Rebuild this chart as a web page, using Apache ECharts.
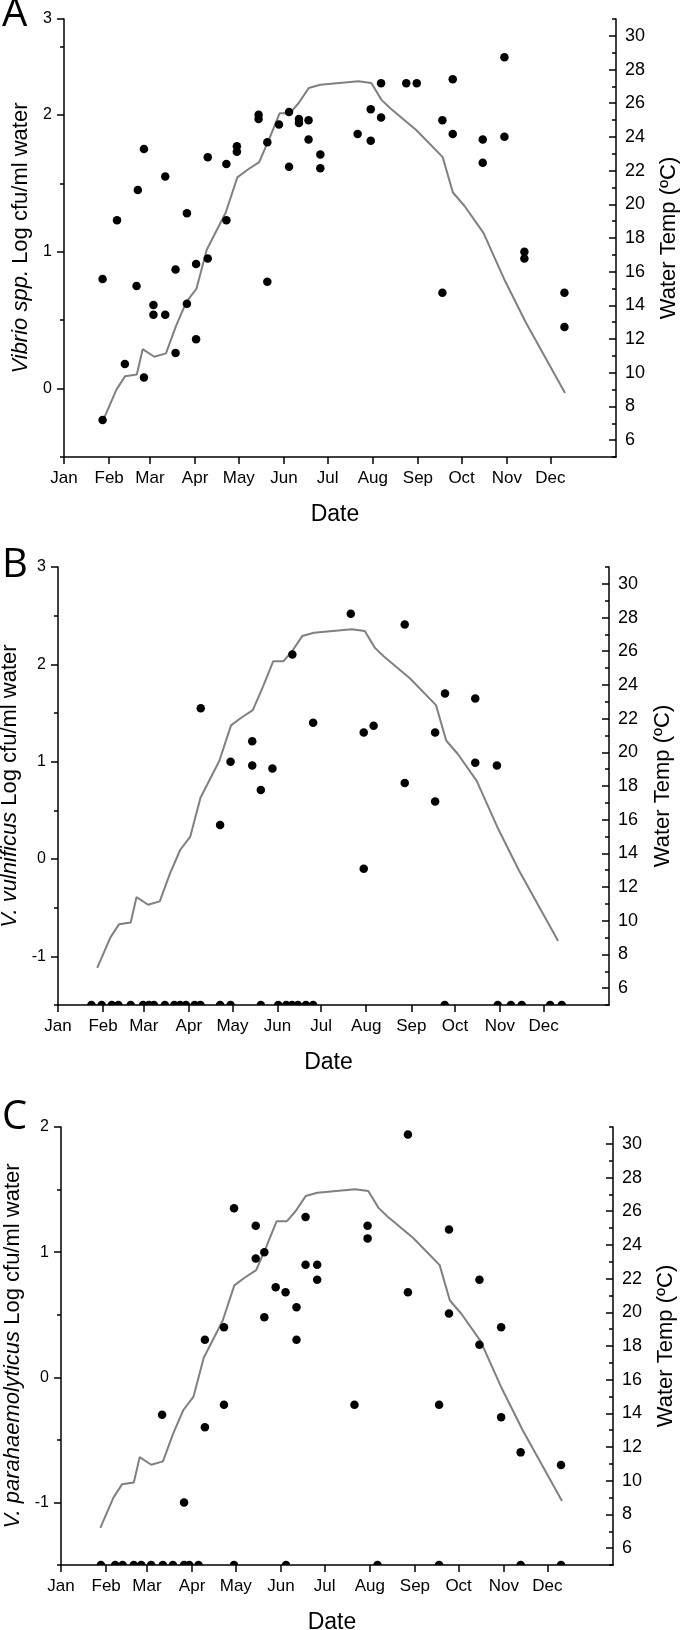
<!DOCTYPE html>
<html><head><meta charset="utf-8">
<script src="https://cdn.jsdelivr.net/npm/echarts@6/dist/echarts.min.js"></script>
<style>html,body{margin:0;padding:0;background:#fff}#c{width:680px;height:1630px}</style>
</head><body><div id="c"></div>
<script>
// ---- Data (x = day of year, Jan 1 = 0) ----
const monthLabels = ['Jan','Feb','Mar','Apr','May','Jun','Jul','Aug','Sep','Oct','Nov','Dec'];
const monthStartDays = [0,31,59,90,120,151,181,212,243,273,304,334];

const tempDays   = [27, 36, 42, 50, 54, 62, 70, 77, 84, 91, 98, 111, 119, 126, 134, 141, 148, 155, 161, 168, 176, 189, 202, 211, 218, 224, 242, 260, 267, 275, 288, 302, 317, 344];
const tempValues = [7.2, 9.0, 9.8, 9.9, 11.4, 10.95, 11.15, 12.8, 14.2, 15.0, 17.3, 19.5, 21.6, 22.05, 22.5, 23.9, 25.4, 25.4, 26.0, 26.9, 27.1, 27.2, 27.3, 27.2, 26.2, 25.7, 24.4, 22.8, 20.7, 19.9, 18.3, 15.6, 13.0, 8.8];

// Panel A: Vibrio spp.
const vibrioDays   = [26.5, 26.5, 36.4, 41.8, 49.8, 50.7, 54.9, 54.9, 61.4, 61.4, 69.5, 69.5, 76.6, 76.6, 84.4, 84.4, 90.7, 90.7, 98.7, 98.7, 111.5, 111.5, 118.7, 118.7, 133.6, 133.6, 139.6, 139.6, 147.6, 154.5, 154.5, 161.3, 161.3, 167.9, 167.9, 176, 176, 201.6, 210.6, 210.6, 217.7, 217.7, 235, 242.2, 259.8, 259.8, 266.9, 266.9, 287.5, 287.5, 302.4, 302.4, 316.1, 316.1, 343.6, 343.6];
const vibrioValues = [0.80, -0.23, 1.23, 0.18, 0.75, 1.45, 1.75, 0.08, 0.61, 0.54, 1.55, 0.54, 0.87, 0.26, 1.28, 0.62, 0.91, 0.36, 1.69, 0.95, 1.64, 1.23, 1.77, 1.73, 2.00, 1.97, 1.80, 0.78, 1.93, 2.02, 1.62, 1.97, 1.94, 1.96, 1.82, 1.71, 1.61, 1.86, 2.04, 1.81, 2.23, 1.98, 2.23, 2.23, 1.96, 0.70, 2.26, 1.86, 1.82, 1.65, 2.42, 1.84, 1.00, 0.95, 0.70, 0.45];

// Panel B: V. vulnificus (detects)
const vulDays   = [98.2, 111.5, 118.7, 133.6, 133.6, 139.5, 147.5, 161.2, 175.5, 201.4, 210.3, 210.3, 217.1, 238.5, 238.5, 259.4, 259.4, 266.2, 287, 287, 301.9];
const vulValues = [1.55, 0.35, 1.00, 1.21, 0.96, 0.71, 0.93, 2.10, 1.40, 2.52, 1.30, -0.10, 1.37, 2.41, 0.78, 1.30, 0.59, 1.70, 1.65, 0.99, 0.96];
// Panel B: non-detects (plotted on the axis floor)
const vulNdDays = [23, 30, 37, 41.5, 50, 58.5, 62.5, 66, 73.5, 80, 84, 88, 94, 98, 111.5, 118.7, 139.5, 151.5, 157, 161, 165, 170.5, 175.5, 266, 302.5, 311.5, 319, 338.5, 346.5];

// Panel C: V. parahaemolyticus (detects)
const paraDays   = [84.5, 69.4, 98.8, 98.8, 111.9, 111.9, 118.8, 133.7, 133.7, 139.6, 139.6, 147.4, 154.2, 161.7, 161.7, 167.9, 167.9, 175.9, 175.9, 201.5, 210.5, 210.5, 238.2, 238.2, 259.6, 266.4, 266.4, 287.3, 287.3, 302.2, 302.2, 315.6, 343.3];
const paraValues = [-1.00, -0.30, 0.30, -0.40, 0.40, -0.22, 1.35, 1.21, 0.95, 1.00, 0.48, 0.72, 0.68, 0.56, 0.30, 1.28, 0.90, 0.90, 0.78, -0.22, 1.21, 1.11, 1.94, 0.68, -0.22, 1.18, 0.51, 0.78, 0.26, 0.40, -0.32, -0.60, -0.70];
const paraNdDays = [27.4, 37.2, 42.3, 50, 55.1, 61.9, 69.9, 76.8, 84.5, 88.1, 94.4, 118.8, 154.5, 217.3, 259.6, 315.6, 343.3];

// ---- Chart ----
const FONT = '"Liberation Sans", Arial, sans-serif';
const zip = (a, b) => a.map((v, i) => [v, b[i]]);
const ND_SYMBOL = 'path://M0,10 A10,10 0 0 1 20,10 Z';

const panels = [
  { letter: 'A', left: 64, top: 19, width: 552, height: 438, ymin: -0.5, ymax: 2.7,
    labels: [0, 1, 2, 2.7], minors: [-0.5, 0.5, 1.5, 2.5], title: '{i|Vibrio spp.}{n| Log cfu/ml water}',
    nameGap: 26.5, rightGap: 42, letterY: -5,
    pts: zip(vibrioDays, vibrioValues), nd: [] },
  { letter: 'B', left: 58, top: 567, width: 551, height: 438, ymin: -1.5, ymax: 3,
    labels: [-1, 0, 1, 2, 3], minors: [-1.5, -0.5, 0.5, 1.5, 2.5], title: '{i|V. vulnificus}{n| Log cfu/ml water}',
    nameGap: 31.5, rightGap: 43, letterY: 546,
    pts: zip(vulDays, vulValues), nd: vulNdDays.map(d => [d, -1.5]) },
  { letter: 'C', left: 61, top: 1127, width: 552, height: 438, ymin: -1.5, ymax: 2,
    labels: [-1, 0, 1, 2], minors: [-1.5, -0.5, 0.5, 1.5], title: '{i|V. parahaemolyticus}{n| Log cfu/ml water}',
    nameGap: 30.5, rightGap: 42, letterY: 1098,
    pts: zip(paraDays, paraValues), nd: paraNdDays.map(d => [d, -1.5]) }
];

const tempMajor = [6, 8, 10, 12, 14, 16, 18, 20, 22, 24, 26, 28, 30];
const tempMinor = [5, 7, 9, 11, 13, 15, 17, 19, 21, 23, 25, 27, 29, 31];

const grid = [], xAxis = [], yAxis = [], series = [], graphic = [];
const axisLine = { show: true, onZero: false, lineStyle: { color: '#000', width: 1.5 } };

panels.forEach((p, i) => {
  grid.push({ left: p.left, top: p.top, width: p.width, height: p.height, containLabel: false, outerBoundsMode: 'none' });
  xAxis.push({
    type: 'value', gridIndex: i, min: 0, max: 379,
    name: 'Date', nameLocation: 'middle', nameGap: 46,
    nameTextStyle: { fontFamily: FONT, fontSize: 23, color: '#000', padding: [0, 10, 0, 0] },
    axisLine, splitLine: { show: false },
    axisTick: { show: true, customValues: monthStartDays, length: 7, lineStyle: { color: '#000', width: 1.5 } },
    axisLabel: { customValues: monthStartDays, margin: 13, fontFamily: FONT, fontSize: 17, color: '#000',
      formatter: v => monthLabels[monthStartDays.indexOf(Math.round(v))] || '' }
  });
  const fmt = v => (Math.abs(v - 2.7) < 1e-6 && p.ymax === 2.7) ? '3' : String(Math.round(v));
  // left main axis
  yAxis.push({
    type: 'value', gridIndex: i, position: 'left', min: p.ymin, max: p.ymax,
    name: p.title, nameLocation: 'middle', nameGap: p.nameGap, nameRotate: 90,
    nameTextStyle: { fontFamily: FONT, fontSize: 22, color: '#000',
      rich: { i: { fontStyle: 'italic', fontFamily: FONT, fontSize: 22, color: '#000' },
              n: { fontFamily: FONT, fontSize: 22, color: '#000' } } },
    axisLine, splitLine: { show: false },
    axisTick: { show: true, customValues: p.labels, length: 7, lineStyle: { color: '#000', width: 1.5 } },
    axisLabel: { customValues: p.labels, margin: 12, fontFamily: FONT, fontSize: 16, color: '#000', formatter: fmt }
  });
  // right temperature axis
  yAxis.push({
    type: 'value', gridIndex: i, position: 'right', min: 5, max: 31,
    name: 'Water Temp (ºC)', nameLocation: 'middle', nameGap: p.rightGap, nameRotate: 90,
    nameTextStyle: { fontFamily: FONT, fontSize: 22, color: '#000' },
    axisLine, splitLine: { show: false },
    axisTick: { show: true, inside: true, customValues: tempMajor, length: 7, lineStyle: { color: '#000', width: 1.5 } },
    axisLabel: { customValues: tempMajor, margin: 9, fontFamily: FONT, fontSize: 18, color: '#000' }
  });
  // left minor ticks
  yAxis.push({
    type: 'value', gridIndex: i, position: 'left', min: p.ymin, max: p.ymax,
    axisLine: { show: false }, splitLine: { show: false }, axisLabel: { show: false },
    axisTick: { show: true, customValues: p.minors, length: 4, lineStyle: { color: '#000', width: 1.5 } }
  });
  // right minor ticks
  yAxis.push({
    type: 'value', gridIndex: i, position: 'right', min: 5, max: 31,
    axisLine: { show: false }, splitLine: { show: false }, axisLabel: { show: false },
    axisTick: { show: true, inside: true, customValues: tempMinor, length: 4, lineStyle: { color: '#000', width: 1.5 } }
  });

  series.push({
    type: 'line', xAxisIndex: i, yAxisIndex: i * 4 + 1, data: zip(tempDays, tempValues),
    showSymbol: false, symbol: 'none', lineStyle: { color: '#808080', width: 2 }, z: 2, silent: true
  });
  series.push({
    type: 'scatter', xAxisIndex: i, yAxisIndex: i * 4, data: p.pts,
    symbol: 'circle', symbolSize: 8.5, itemStyle: { color: '#000', opacity: 1 }, z: 3, silent: true
  });
  if (p.nd.length) {
    series.push({
      type: 'scatter', xAxisIndex: i, yAxisIndex: i * 4, data: p.nd, clip: false,
      symbol: ND_SYMBOL, symbolSize: [8.5, 4.25], symbolOffset: [0, -2.1], symbolKeepAspect: false,
      itemStyle: { color: '#000', opacity: 1 }, z: 3, silent: true
    });
  }
  graphic.push({
    type: 'text', left: 2, top: p.letterY,
    style: { text: p.letter, font: '40px "Open Sans", sans-serif', fill: '#000' }
  });
});

const chart = echarts.init(document.getElementById('c'), null, { renderer: 'canvas' });
chart.setOption({ animation: false, backgroundColor: '#fff', grid, xAxis, yAxis, series, graphic });
</script></body></html>
